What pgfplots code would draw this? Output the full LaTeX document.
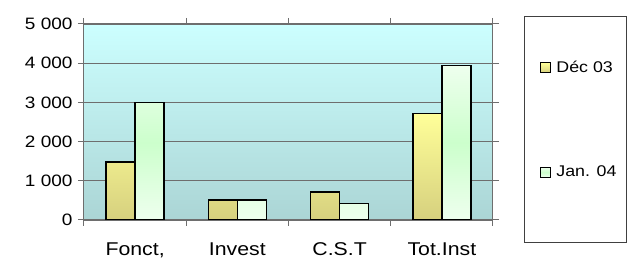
\documentclass[border=0pt]{standalone}
\usepackage{pgfplots}
\pgfplotsset{compat=1.18}
\usepackage{fontspec}
\setmainfont{Liberation Sans}[FakeStretch=1.15]
\definecolor{bgtop}{HTML}{CCFFFF}
\definecolor{bgbot}{HTML}{ABD5D5}
\definecolor{ytop}{HTML}{FFFF99}
\definecolor{ybot}{HTML}{D6D07E}
\definecolor{gtop}{HTML}{EEFFEE}
\definecolor{gmid}{HTML}{CCFFCC}
\definecolor{gbot}{HTML}{EEFFEE}
\definecolor{gridc}{HTML}{6E6E6E}
\begin{document}
\begin{tikzpicture}
\useasboundingbox (0,0) rectangle (630pt,260pt);
\draw[black!75, line width=0.6pt] (524pt,18pt) rectangle (626pt,244pt);
\begin{axis}[
  at={(84pt,40pt)}, anchor=south west,
  scale only axis, width=409pt, height=196pt,
  xmin=-0.5, xmax=3.5, ymin=0, ymax=5000,
  xtick={-0.5,0.5,1.5,2.5,3.5},
  x tick label as interval,
  xticklabels={{Fonct,},Invest,C.S.T,Tot.Inst},
  ytick={0,1000,2000,3000,4000,5000},
  tick align=outside, major tick length=6pt,
  tick style={gridc, line width=1pt},
  axis line style={gridc, line width=1pt},
  ymajorgrids, grid style={gridc, line width=1.2pt},
  axis background/.style={top color=bgtop, bottom color=bgbot},
  ybar=0pt, bar width=29pt,
  /pgf/number format/assume math mode=true,
  /pgf/number format/1000 sep={\ },
  yticklabel style={font=\fontsize{16.5}{18}\selectfont, xshift=-2pt},
  xticklabel style={font=\fontsize{18.5}{20}\selectfont, yshift=-13pt},
  legend style={at={(1,1)}, anchor=north west, xshift=31pt, yshift=8pt,
    draw=none, fill=none,
    inner xsep=16pt, inner ysep=43pt, row sep=88pt, column sep=3pt,
    font=\fontsize{15.5}{17}\selectfont, cells={anchor=west}},
]
\addplot[draw=black, line width=1.5pt, top color=ytop, bottom color=ybot,
  legend image code/.code={\draw[black, line width=1.2pt, top color=ytop, bottom color=ybot] (0pt,-5pt) rectangle (10pt,5pt);}]
  coordinates {(0,1480) (1,510) (2,720) (3,2720)};
\addlegendentry{Déc 03}
\addplot[draw=black, line width=1.5pt, top color=gtop, bottom color=gbot, middle color=gmid,
  legend image code/.code={\draw[black, line width=1.2pt, top color=gtop, bottom color=gbot, middle color=gmid] (0pt,-5pt) rectangle (10pt,5pt);}]
  coordinates {(0,3000) (1,510) (2,425) (3,3940)};
\addlegendentry{Jan. 04}
\end{axis}
\end{tikzpicture}
\end{document}
